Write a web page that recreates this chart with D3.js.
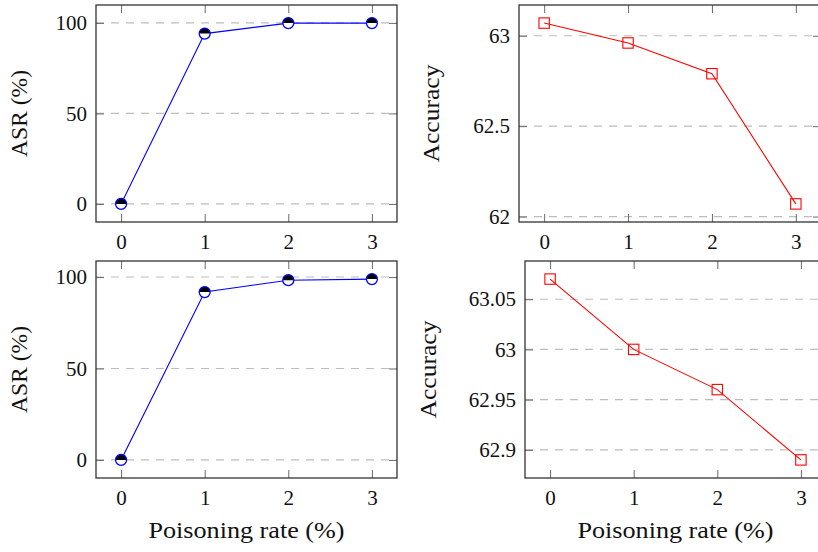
<!DOCTYPE html>
<html>
<head>
<meta charset="utf-8">
<script src="https://cdn.jsdelivr.net/npm/d3@7"></script>
<style>
  html, body { margin: 0; padding: 0; background: #fff; }
  svg { display: block; }
</style>
</head>
<body>
<svg id="chart" width="818" height="552"></svg>
<script>
// ---- data ----
const poisoningRates = [0, 1, 2, 3];
const xTickLabels = ["0", "1", "2", "3"];
const asrTop = [0, 94.1, 99.9, 99.9];
const accTop = [63.07, 62.96, 62.79, 62.07];
const asrBottom = [0, 91.8, 98.3, 98.9];
const accBottom = [63.07, 63.00, 62.96, 62.89];
const asrTicks = [0, 50, 100];
const accTopTicks = [62, 62.5, 63];
const accBottomTicks = [62.9, 62.95, 63, 63.05];
const asrTitle = "ASR (%)";
const accTitle = "Accuracy";
const xTitle = "Poisoning rate (%)";

// ---- layout ----
const FONT = "'Liberation Serif', monospace";
const panels = [
  { left: 96,  top: 5,   w: 301, h: 217, values: asrTop,    ticks: asrTicks,       mark: "half",   color: "#0000ff", title: asrTitle, titleX: 27,  titleLen: 87, showX: false },
  { left: 519, top: 5,   w: 302, h: 217, values: accTop,    ticks: accTopTicks,    mark: "square", color: "#ff0000", title: accTitle, titleX: 439, titleLen: 98, showX: false },
  { left: 96,  top: 261, w: 301, h: 217, values: asrBottom, ticks: asrTicks,       mark: "half",   color: "#0000ff", title: asrTitle, titleX: 27,  titleLen: 87, showX: true },
  { left: 525, top: 261, w: 301, h: 217, values: accBottom, ticks: accBottomTicks, mark: "square", color: "#ff0000", title: accTitle, titleX: 436, titleLen: 98, showX: true }
];

const svg = d3.select("#chart");
const tickLen = 8;
const fmt = d => String(+d.toFixed(3));

panels.forEach(p => {
  const g = svg.append("g").attr("transform", `translate(${p.left},${p.top})`);
  const xr = d3.extent(poisoningRates), xs = (xr[1] - xr[0]) * 0.1;
  const x = d3.scaleLinear().domain([xr[0] - xs, xr[1] + xs]).range([0, p.w]);
  const yr = d3.extent(p.values), ys = (yr[1] - yr[0]) * 0.1;
  const y = d3.scaleLinear().domain([yr[0] - ys, yr[1] + ys]).range([p.h, 0]);

  // grid
  g.append("g").selectAll("line").data(p.ticks).join("line")
    .attr("x1", 0).attr("x2", p.w)
    .attr("y1", d => y(d)).attr("y2", d => y(d))
    .attr("stroke", "#bdbdbd").attr("stroke-width", 1.1)
    .attr("stroke-dasharray", "8,7");

  const styleAxis = sel => {
    sel.attr("font-family", null).attr("font-size", null);
    sel.select(".domain").remove();
    sel.selectAll(".tick line").attr("stroke", "#6a6a6a").attr("stroke-width", 1);
    sel.selectAll("text").style("font-family", FONT).attr("font-size", 21).attr("fill", "#111");
  };

  g.append("g").attr("transform", `translate(0,${p.h})`)
    .call(d3.axisBottom(x).tickValues(poisoningRates).tickFormat((d, i) => xTickLabels[i])
      .tickSize(-tickLen).tickSizeOuter(0).tickPadding(12))
    .call(styleAxis);
  g.append("g")
    .call(d3.axisTop(x).tickValues(poisoningRates).tickFormat("").tickSize(-tickLen).tickSizeOuter(0))
    .call(styleAxis);
  g.append("g")
    .call(d3.axisLeft(y).tickValues(p.ticks).tickFormat(fmt).tickSize(-tickLen).tickSizeOuter(0).tickPadding(9))
    .call(styleAxis);
  g.append("g").attr("transform", `translate(${p.w},0)`)
    .call(d3.axisRight(y).tickValues(p.ticks).tickFormat("").tickSize(-tickLen).tickSizeOuter(0))
    .call(styleAxis);

  // frame
  g.append("rect").attr("x", 0).attr("y", 0).attr("width", p.w).attr("height", p.h)
    .attr("fill", "none").attr("stroke", "#333").attr("stroke-width", 1.3);

  // line
  const pts = poisoningRates.map((r, i) => [x(r), y(p.values[i])]);
  g.append("path").attr("d", d3.line()(pts))
    .attr("fill", "none").attr("stroke", p.color).attr("stroke-width", 1.1);

  // markers
  const mk = g.append("g").selectAll("g").data(pts).join("g")
    .attr("transform", d => `translate(${d[0]},${d[1]})`);
  if (p.mark === "half") {
    const r = 5.5;
    mk.append("circle").attr("r", r).attr("fill", "#fff");
    mk.append("path").attr("d", `M${-r},0 A${r},${r} 0 0 1 ${r},0 Z`).attr("fill", "#000");
    mk.append("circle").attr("r", r).attr("fill", "none").attr("stroke", p.color).attr("stroke-width", 1.3);
  } else {
    mk.append("rect").attr("x", -5.2).attr("y", -5.2).attr("width", 10.4).attr("height", 10.4)
      .attr("fill", "none").attr("stroke", p.color).attr("stroke-width", 1.1);
  }

  // y title
  svg.append("text")
    .attr("transform", `translate(${p.titleX},${p.top + p.h / 2}) rotate(-90)`)
    .attr("text-anchor", "middle")
    .style("font-family", FONT).attr("font-size", 23).attr("fill", "#111")
    .attr("textLength", p.titleLen).attr("lengthAdjust", "spacingAndGlyphs")
    .text(p.title);

  // x title
  if (p.showX) {
    svg.append("text")
      .attr("x", p.left + p.w / 2).attr("y", p.top + p.h + 60)
      .attr("text-anchor", "middle")
      .style("font-family", FONT).attr("font-size", 23).attr("fill", "#111")
      .attr("textLength", 196).attr("lengthAdjust", "spacingAndGlyphs")
      .text(xTitle);
  }
});
</script>
</body>
</html>
